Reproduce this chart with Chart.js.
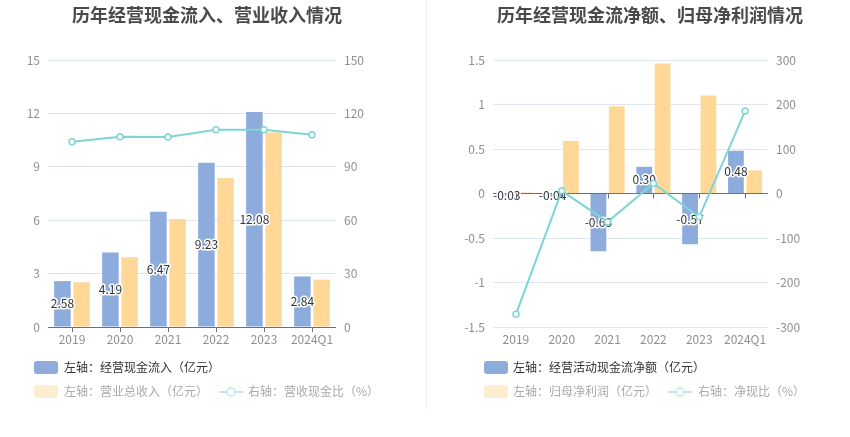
<!DOCTYPE html>
<html>
<head>
<meta charset="utf-8">
<script src="https://cdn.jsdelivr.net/npm/chart.js@4/dist/chart.umd.min.js"></script>
<style>
  body { margin: 0; background: #fff; font-family: "Noto Sans CJK SC", sans-serif; }
  #wrap { position: relative; width: 850px; height: 437px; overflow: hidden; }
  .panel { position: absolute; top: 0; width: 425px; height: 437px; }
  .title { position: absolute; top: 1px; font-size: 18px; font-weight: bold; color: #4a4a4a;
           white-space: nowrap; transform: translateX(-50%); }
  .divider { position: absolute; left: 426px; top: 0; width: 1px; height: 410px; background: #eeeeee; }
  .lg { position: absolute; font-size: 12px; white-space: nowrap; line-height: 16px; }
  .sw { position: absolute; width: 24px; height: 13px; border-radius: 3px; }
  .ico { position: absolute; width: 24px; height: 10px; }
</style>
</head>
<body>
<div id="wrap">
  <div class="panel" style="left:0"><canvas id="c1" width="425" height="437"></canvas></div>
  <div class="panel" style="left:425px"><canvas id="c2" width="425" height="437"></canvas></div>
  <div class="divider"></div>

  <div class="title" style="left:207px">历年经营现金流入、营业收入情况</div>
  <div class="title" style="left:650px">历年经营现金流净额、归母净利润情况</div>

  <!-- left legend -->
  <div class="sw" style="left:34px;top:361px;background:#8DACDB"></div>
  <div class="lg" style="left:64px;top:359px;color:#333">左轴：经营现金流入（亿元）</div>
  <div class="sw" style="left:34px;top:385px;background:#FFEDCF"></div>
  <div class="lg" style="left:64px;top:383px;color:#aaa">左轴：营业总收入（亿元）</div>
  <svg class="ico" style="left:219px;top:387px" viewBox="0 0 24 10"><line x1="0" y1="5" x2="24" y2="5" stroke="#BFEAEA" stroke-width="2"/><circle cx="12" cy="5" r="4" fill="#fff" stroke="#BFEAEA" stroke-width="1.5"/></svg>
  <div class="lg" style="left:248px;top:383px;color:#aaa">右轴：营收现金比（%）</div>

  <!-- right legend -->
  <div class="sw" style="left:484px;top:361px;background:#8DACDB"></div>
  <div class="lg" style="left:513px;top:359px;color:#333">左轴：经营活动现金流净额（亿元）</div>
  <div class="sw" style="left:484px;top:385px;background:#FFEDCF"></div>
  <div class="lg" style="left:513px;top:383px;color:#aaa">左轴：归母净利润（亿元）</div>
  <svg class="ico" style="left:668px;top:387px" viewBox="0 0 24 10"><line x1="0" y1="5" x2="24" y2="5" stroke="#BFEAEA" stroke-width="2"/><circle cx="12" cy="5" r="4" fill="#fff" stroke="#BFEAEA" stroke-width="1.5"/></svg>
  <div class="lg" style="left:698px;top:383px;color:#aaa">右轴：净现比（%）</div>
</div>

<script>
const years = ["2019", "2020", "2021", "2022", "2023", "2024Q1"];

// left chart
const cashInflow = [2.58, 4.19, 6.47, 9.23, 12.08, 2.84];
const revenue = [2.51, 3.92, 6.07, 8.37, 10.92, 2.66];
const cashRevenueRatio = [104.1, 106.9, 106.7, 110.8, 110.8, 108.0];

// right chart
const netCashFlow = [-0.03, -0.04, -0.65, 0.30, -0.57, 0.48];
const netProfit = [0.011, 0.59, 0.98, 1.46, 1.10, 0.26];
const netCashRatio = [-271.6, 6.0, -63.8, 22.5, -52.5, 185.2];

const BLUE = "#8DACDB";
const ORANGE = "#FFD898";
const TEAL = "#7FD4D6";
const TICK_COLOR = "#8F8F8F";
const GRID = "#E0E6F1";
const AXIS = "#6E7079";
const FONT = "'Noto Sans CJK SC', sans-serif";

// value labels in the middle of the first (blue) bar dataset
const barLabels = {
  id: "barLabels",
  afterDatasetDraw(chart, args) {
    if (args.index !== 0) return;
    const ctx = chart.ctx;
    const ds = chart.data.datasets[0];
    ctx.save();
    ctx.font = "12px " + FONT;
    ctx.textAlign = "center";
    ctx.textBaseline = "middle";
    ctx.lineJoin = "round";
    args.meta.data.forEach((bar, i) => {
      const txt = ds.data[i].toFixed(2);
      const y = (bar.y + bar.base) / 2;
      ctx.lineWidth = 3;
      ctx.strokeStyle = "#fff";
      ctx.strokeText(txt, bar.x, y);
      ctx.fillStyle = "#333";
      ctx.fillText(txt, bar.x, y);
    });
    ctx.restore();
  }
};

// small tick marks under the zero line at each category
const zeroTicks = {
  id: "zeroTicks",
  afterDraw(chart) {
    const x = chart.scales.x;
    const y0 = chart.scales.y.getPixelForValue(0);
    const ctx = chart.ctx;
    ctx.save();
    ctx.strokeStyle = AXIS;
    ctx.lineWidth = 1;
    for (let i = 0; i < years.length; i++) {
      const px = Math.round(x.getPixelForTick(i)) + 0.5;
      ctx.beginPath();
      ctx.moveTo(px, y0);
      ctx.lineTo(px, y0 + 5);
      ctx.stroke();
    }
    ctx.restore();
  }
};

function makeChart(id, bars1, bars2, line, leftAxis, rightAxis, widths) {
  const ctx = document.getElementById(id).getContext("2d");
  return new Chart(ctx, {
    type: "bar",
    data: {
      labels: years,
      datasets: [
        {
          type: "bar",
          data: bars1,
          backgroundColor: BLUE,
          yAxisID: "y",
          barPercentage: 0.86,
          categoryPercentage: 0.8,
          order: 1
        },
        {
          type: "bar",
          data: bars2,
          backgroundColor: ORANGE,
          yAxisID: "y",
          barPercentage: 0.86,
          categoryPercentage: 0.8,
          order: 1
        },
        {
          type: "line",
          data: line,
          borderColor: TEAL,
          borderWidth: 2,
          tension: 0,
          pointRadius: 3,
          pointBorderWidth: 1.5,
          pointBackgroundColor: "#fff",
          pointBorderColor: TEAL,
          yAxisID: "y1",
          order: 0
        }
      ]
    },
    options: {
      responsive: false,
      animation: false,
      layout: { padding: { top: 60, bottom: 0, left: 0, right: 0 } },
      plugins: {
        legend: { display: false },
        title: { display: false },
        tooltip: { enabled: false }
      },
      scales: {
        x: {
          grid: { display: false, drawTicks: false },
          border: { display: false },
          ticks: {
            color: TICK_COLOR,
            font: { size: 12, family: FONT },
            padding: 5,
            maxRotation: 0,
            autoSkip: false
          },
          afterFit: s => { s.height = 110; }
        },
        y: {
          position: "left",
          min: leftAxis.min,
          max: leftAxis.max,
          border: { display: false },
          grid: {
            color: c => (c.tick && c.tick.value === 0 ? AXIS : GRID),
            drawTicks: false
          },
          ticks: {
            stepSize: leftAxis.step,
            color: TICK_COLOR,
            padding: 8,
            font: { size: 12, family: FONT },
            callback: v => String(v)
          },
          afterFit: s => { s.width = widths[0]; }
        },
        y1: {
          position: "right",
          min: rightAxis.min,
          max: rightAxis.max,
          border: { display: false },
          grid: { display: false, drawTicks: false },
          ticks: {
            stepSize: rightAxis.step,
            color: TICK_COLOR,
            padding: 8,
            font: { size: 12, family: FONT },
            callback: v => String(v)
          },
          afterFit: s => { s.width = widths[1]; }
        }
      }
    },
    plugins: [barLabels, zeroTicks]
  });
}

makeChart("c1", cashInflow, revenue, cashRevenueRatio,
  { min: 0, max: 15, step: 3 }, { min: 0, max: 150, step: 30 }, [48, 89]);

makeChart("c2", netCashFlow, netProfit, netCashRatio,
  { min: -1.5, max: 1.5, step: 0.5 }, { min: -300, max: 300, step: 100 }, [68, 82]);
</script>
</body>
</html>
